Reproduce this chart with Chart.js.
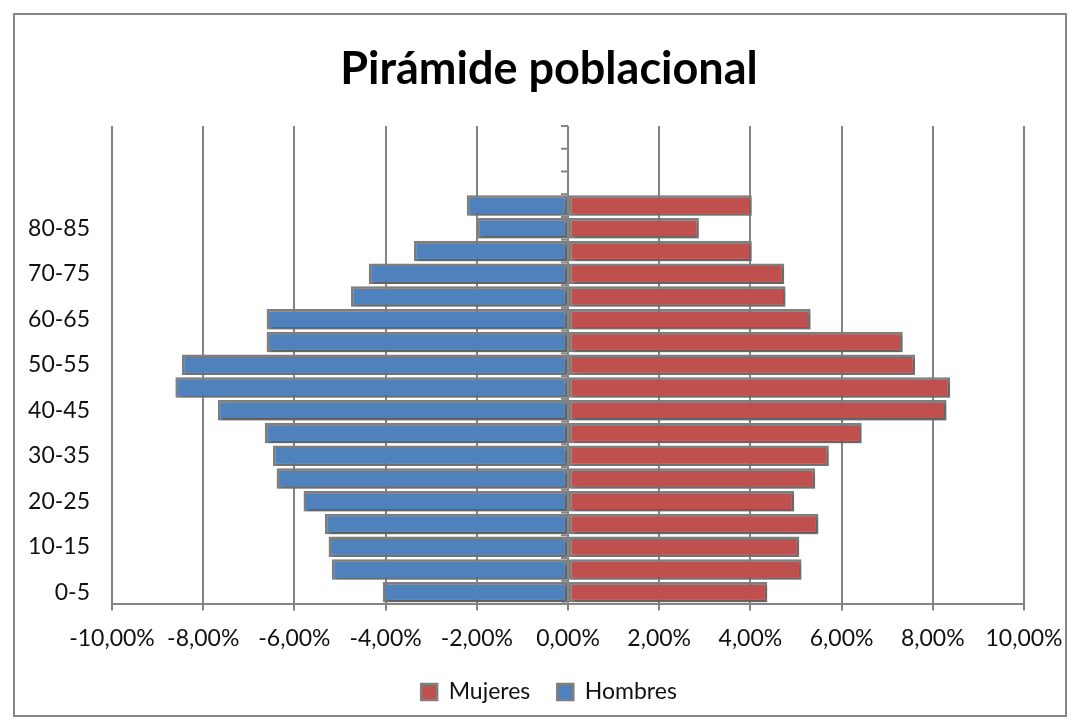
<!DOCTYPE html>
<html>
<head>
<meta charset="utf-8">
<script src="https://cdn.jsdelivr.net/npm/chart.js@4.4.1/dist/chart.umd.min.js"></script>
<style>
  html, body { margin: 0; padding: 0; background: #fff; }
  #frame { position: absolute; left: 13px; top: 13px; width: 1054px; height: 704px; box-sizing: border-box; border: 2px solid #878787; background: #fff; }
  #wrap { position: absolute; left: 0; top: 0; width: 1080px; height: 727px; }
</style>
</head>
<body>
<div id="frame"></div>
<div id="wrap"><canvas id="c" width="1080" height="727"></canvas></div>
<script>
// Age groups (bottom to top); the last three category slots are empty in the source chart
const categories = ['0-5','5-10','10-15','15-20','20-25','25-30','30-35','35-40','40-45','45-50','50-55','55-60','60-65','65-70','70-75','75-80','80-85','85-90','','',''];
// Percent of population
const mujeres = [4.37, 5.12, 5.07, 5.49, 4.96, 5.42, 5.72, 6.44, 8.30, 8.38, 7.61, 7.34, 5.32, 4.77, 4.74, 4.03, 2.87, 4.03];
const hombres = [-4.06, -5.18, -5.25, -5.33, -5.80, -6.39, -6.47, -6.65, -7.68, -8.61, -8.47, -6.61, -6.61, -4.76, -4.37, -3.38, -2.00, -2.22];
const xTicks = [-10, -8, -6, -4, -2, 0, 2, 4, 6, 8, 10];

const GRID = '#848484';
const FONT = 'Lato';

const centerAxisTicks = {
  id: 'centerAxisTicks',
  beforeDatasetsDraw(chart) {
    const { ctx, scales: { x, y } } = chart;
    const x0 = x.getPixelForValue(0);
    ctx.save();
    ctx.strokeStyle = GRID;
    ctx.lineWidth = 2;
    for (let i = 0; i <= categories.length; i++) {
      const yy = y.getPixelForValue(i - 0.5);
      ctx.beginPath();
      ctx.moveTo(x0 - 7, yy);
      ctx.lineTo(x0, yy);
      ctx.stroke();
    }
    ctx.restore();
  }
};

const barShadow = {
  id: 'barShadow',
  beforeDatasetDraw(chart) {
    const ctx = chart.ctx;
    ctx.save();
    ctx.shadowColor = 'rgba(0,0,0,0.30)';
    ctx.shadowBlur = 3;
    ctx.shadowOffsetX = 2;
    ctx.shadowOffsetY = 2;
  },
  afterDatasetDraw(chart) {
    chart.ctx.restore();
  }
};

// Center title and legend over the frame (like the source) instead of over the padded layout box
const recenterBlocks = {
  id: 'recenterBlocks',
  afterLayout(chart) {
    const shift = 27;
    [chart.titleBlock, chart.legend].forEach(b => {
      if (b) { b.left += shift; b.right += shift; }
    });
  }
};

const fmt = v => v.toFixed(2).replace('.', ',') + '%';

new Chart(document.getElementById('c'), {
  type: 'bar',
  data: {
    labels: categories,
    datasets: [
      { label: 'Mujeres', data: mujeres, backgroundColor: '#c0504d', borderColor: '#7f7f7f', borderWidth: 2.5, borderSkipped: false, categoryPercentage: 1, barPercentage: 0.9 },
      { label: 'Hombres', data: hombres, backgroundColor: '#4f81bd', borderColor: '#7f7f7f', borderWidth: 2.5, borderSkipped: false, categoryPercentage: 1, barPercentage: 0.9 }
    ]
  },
  options: {
    indexAxis: 'y',
    responsive: false,
    animation: false,
    events: [],
    layout: { padding: { left: 20, right: 56, top: 0, bottom: 13.5 } },
    scales: {
      x: {
        stacked: true,
        min: -10, max: 10,
        afterBuildTicks: s => { s.ticks = xTicks.map(v => ({ value: v })); },
        afterFit: s => { s.height = 50; },
        grid: { color: GRID, lineWidth: 2, drawTicks: true, tickLength: 7, tickColor: GRID },
        border: { display: true, color: GRID, width: 2 },
        ticks: { callback: v => fmt(v), color: '#111', font: { family: FONT, size: 23 }, padding: 14, maxRotation: 0, autoSkip: false }
      },
      y: {
        stacked: true,
        reverse: true,
        grid: { display: false, drawTicks: false },
        border: { display: false },
        afterFit: s => { s.width = 92; },
        ticks: {
          autoSkip: false,
          padding: 22,
          color: '#111',
          font: { family: FONT, size: 23 },
          callback: function (v, i) { return i % 2 === 0 ? categories[i] : ''; }
        }
      }
    },
    plugins: {
      title: {
        display: true,
        text: 'Pirámide poblacional',
        color: '#000',
        font: { family: FONT, size: 45, weight: 'bold' },
        padding: { top: 42, bottom: 30 }
      },
      legend: {
        position: 'bottom',
        labels: { color: '#111', font: { family: FONT, size: 23 }, boxWidth: 16, boxHeight: 16, padding: 27 }
      },
      tooltip: { enabled: false }
    }
  },
  plugins: [centerAxisTicks, barShadow, recenterBlocks]
});
</script>
</body>
</html>
